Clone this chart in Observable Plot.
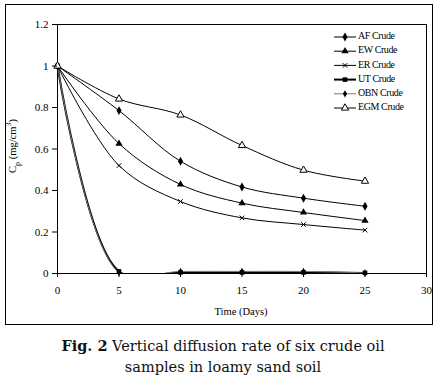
<!DOCTYPE html>
<html><head><meta charset="utf-8">
<script src="https://cdn.jsdelivr.net/npm/d3@7"></script>
<script src="https://cdn.jsdelivr.net/npm/@observablehq/plot@0.6"></script>
<style>
html,body{margin:0;padding:0;background:#fff}
body{width:437px;height:383px;position:relative;overflow:hidden;font-family:"Liberation Serif",serif}
#frame{position:absolute;left:5px;top:4px;width:426px;height:319px;border:1px solid #000;box-sizing:content-box}
#chart{position:absolute;left:0;top:0}
#caption{position:absolute;left:0;top:335px;width:446px;text-align:center;font-family:"DejaVu Serif",serif;font-size:14.5px;line-height:21px;color:#111}
</style></head><body>
<div id="frame"></div><div id="chart"></div>
<div id="caption"><b>Fig. 2</b> Vertical diffusion rate of six crude oil<br>samples in loamy sand soil</div>
<script>
const days = [0, 5, 10, 15, 20, 25];
const af  = [1, 0.785, 0.541, 0.417, 0.363, 0.324];
const ew  = [1, 0.626, 0.429, 0.339, 0.294, 0.255];
const er  = [1, 0.52, 0.347, 0.268, 0.236, 0.209];
const ut  = [1, 0.01, 0.005, 0.005, 0.005, 0.003];
const obn = [1, 0.005, 0.01, 0.01, 0.01, 0.003];
const egm = [1, 0.841, 0.764, 0.617, 0.498, 0.445];
const seriesNames = ["AF Crude", "EW Crude", "ER Crude", "UT Crude", "OBN Crude", "EGM Crude"];
const xTicks = [0, 5, 10, 15, 20, 25, 30];
const yTicks = [0, 0.2, 0.4, 0.6, 0.8, 1, 1.2];
const xLabel = "Time (Days)";

const styles = [
  {vals: af,  color: "#000", sw: 1, symbol: "diamond",  fill: "#000", stroke: "none", r: 2.7},
  {vals: ew,  color: "#000", sw: 1, symbol: "triangle", fill: "#000", stroke: "none", r: 2.7},
  {vals: er,  color: "#000", sw: 1, symbol: "times",    fill: "none", stroke: "#000", r: 2.2},
  {vals: ut,  color: "#000", sw: 2, symbol: "square",   fill: "#000", stroke: "none", r: 2.6},
  {vals: obn, color: "#777", sw: 1, symbol: "diamond",  fill: "#000", stroke: "none", r: 2.2},
  {vals: egm, color: "#000", sw: 1, symbol: "triangle", fill: "#fff", stroke: "#000", r: 2.7}
];
const rows = vals => days.map((d, i) => ({day: d, v: vals[i]}));

const marks = [Plot.frame({stroke: "#000"})];
for (const s of styles) {
  marks.push(Plot.line(rows(s.vals), {x: "day", y: "v", stroke: s.color, strokeWidth: s.sw, curve: "catmull-rom", clip: true}));
}
for (const s of styles) {
  marks.push(Plot.dot(rows(s.vals), {x: "day", y: "v", symbol: s.symbol, fill: s.fill, stroke: s.stroke, strokeWidth: 1, r: s.r}));
}
marks.push(Plot.axisX({ticks: xTicks, tickSize: 4, tickPadding: 9, label: null, tickFormat: d => String(d)}));
marks.push(Plot.axisY({ticks: yTicks, tickSize: 5, tickPadding: 4, label: null, tickFormat: d => String(+d.toFixed(1))}));

const W = 437, H = 330;
const plot = Plot.plot({
  width: W, height: H,
  marginLeft: 57, marginRight: 11, marginTop: 24, marginBottom: 57,
  style: {fontFamily: "Liberation Serif, serif", fontSize: "11px", background: "transparent", color: "#000", overflow: "visible"},
  x: {domain: [0, 30]},
  y: {domain: [0, 1.2]},
  marks
});
document.getElementById("chart").appendChild(plot);

const svg = d3.select(plot);
svg.selectAll("[aria-label='x-axis tick label'] text, [aria-label='y-axis tick label'] text").attr("font-variant", "normal");

// x axis title
svg.append("text").attr("x", 241).attr("y", 313).attr("text-anchor", "middle")
  .attr("dominant-baseline", "middle").attr("font-size", 10.5).attr("font-family", "Liberation Serif, serif")
  .text(xLabel);

// y axis title with sub/superscript
const yt = svg.append("text").attr("transform", "translate(14,146) rotate(-90)").attr("text-anchor", "middle")
  .attr("dominant-baseline", "middle").attr("font-size", 10.5).attr("font-family", "Liberation Serif, serif");
yt.append("tspan").text("C");
yt.append("tspan").attr("baseline-shift", "sub").attr("font-size", 8).text("p");
yt.append("tspan").text(" (mg/cm");
yt.append("tspan").attr("baseline-shift", "super").attr("font-size", 8).text("3");
yt.append("tspan").text(")");

// legend
const lg = svg.append("g");
const lx0 = 334, lx1 = 356, ly0 = 37, ldy = 14.2;
const sym = {diamond: d3.symbolDiamond, triangle: d3.symbolTriangle, times: d3.symbolTimes, square: d3.symbolSquare};
styles.forEach((s, i) => {
  const y = ly0 + i * ldy;
  lg.append("line").attr("x1", lx0).attr("x2", lx1).attr("y1", y).attr("y2", y)
    .attr("stroke", s.color).attr("stroke-width", s.sw);
  const size = Math.PI * s.r * s.r;
  lg.append("path").attr("transform", `translate(${(lx0 + lx1) / 2},${y})`)
    .attr("d", d3.symbol(sym[s.symbol], size)())
    .attr("fill", s.fill).attr("stroke", s.stroke);
  lg.append("text").attr("x", lx1 + 2).attr("y", y).attr("dominant-baseline", "middle")
    .attr("text-anchor", "start").attr("letter-spacing", -0.4)
    .attr("font-size", 10).attr("font-family", "Liberation Serif, serif").text(seriesNames[i]);
});
</script>
</body></html>
